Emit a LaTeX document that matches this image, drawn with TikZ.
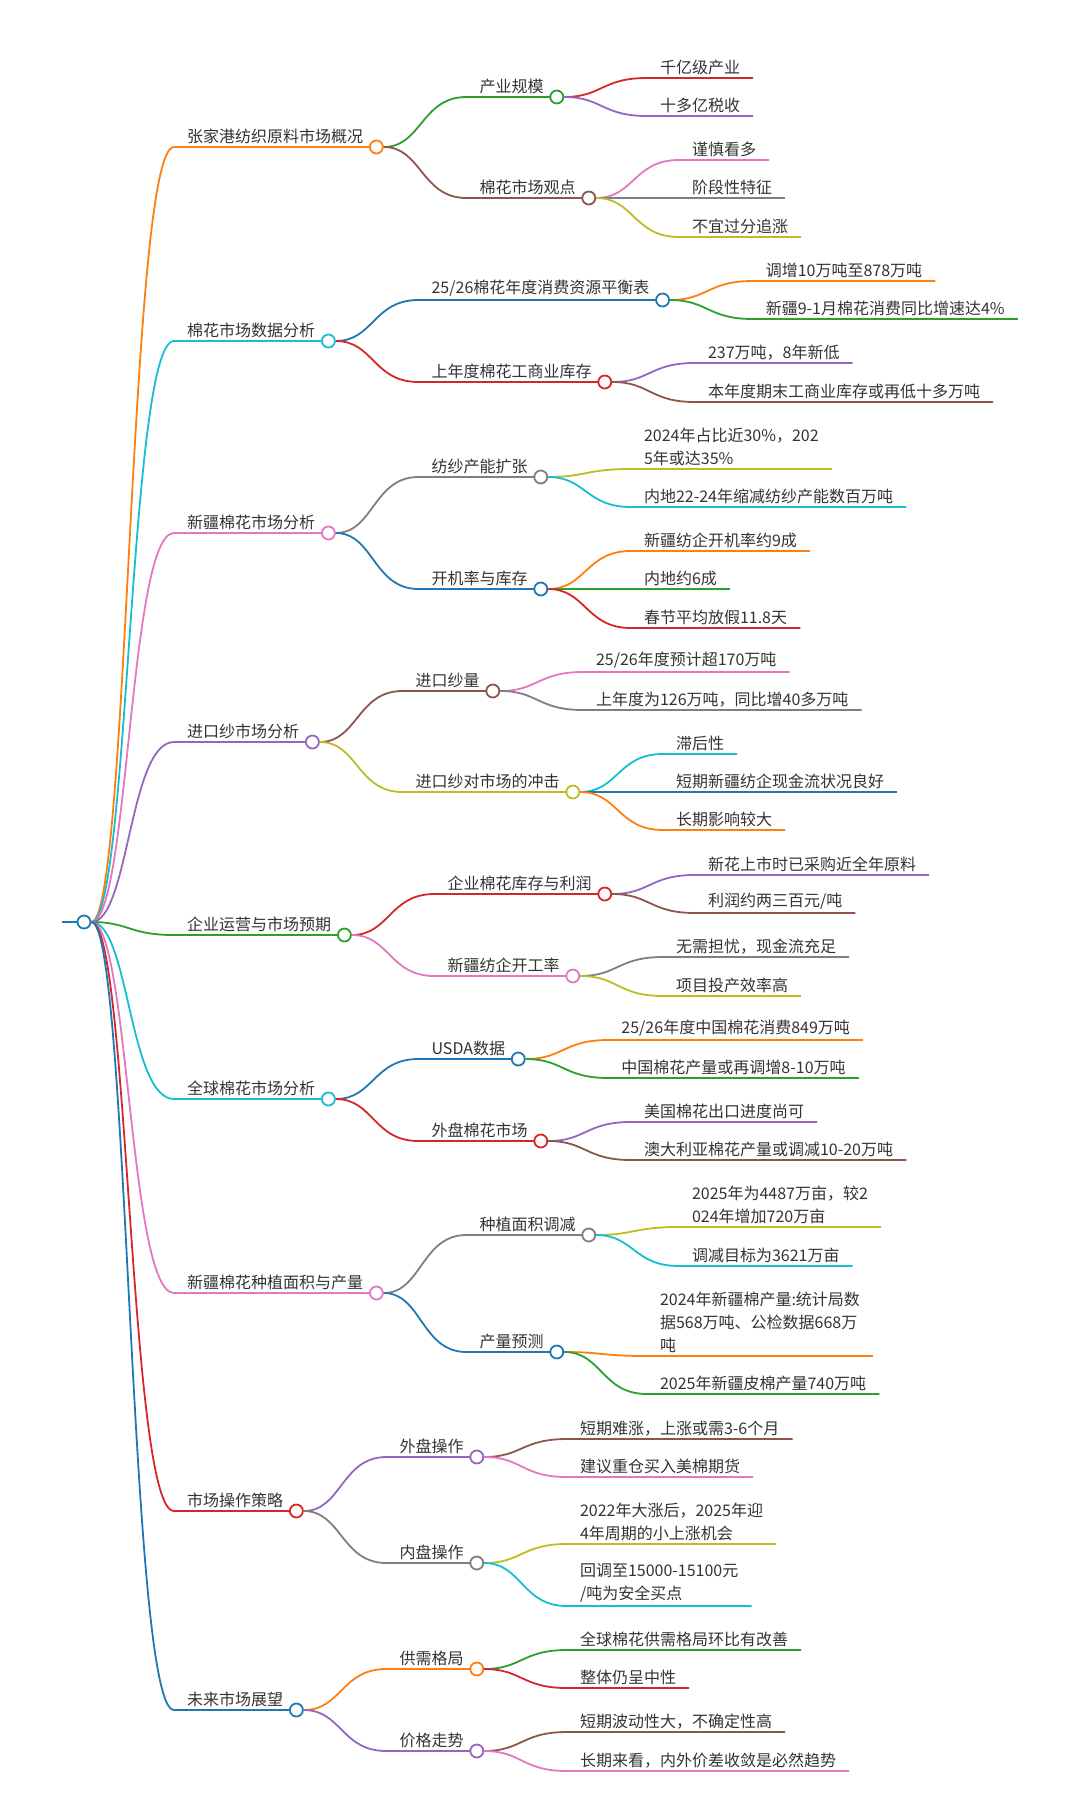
\documentclass[tikz,border=0pt]{standalone}
\usepackage{fontspec}
\newfontfamily\cjk{Noto Sans CJK SC}
\definecolor{cblue}{HTML}{1F77B4}
\definecolor{corange}{HTML}{FF7F0E}
\definecolor{cgreen}{HTML}{2CA02C}
\definecolor{cred}{HTML}{D62728}
\definecolor{cpurple}{HTML}{9467BD}
\definecolor{cbrown}{HTML}{8C564B}
\definecolor{cpink}{HTML}{E377C2}
\definecolor{cgray}{HTML}{7F7F7F}
\definecolor{colive}{HTML}{BCBD22}
\definecolor{ccyan}{HTML}{17BECF}
\definecolor{textgray}{HTML}{333333}

\begin{document}
\begin{tikzpicture}[x=1pt,y=-1pt,
  txt/.style={anchor=south west,inner xsep=13pt,inner ysep=3pt,align=left,
    text=textgray,font=\cjk\fontsize{16}{23}\selectfont},
  dot/.style={circle,draw,fill=white,line width=1.8pt,minimum size=13pt,inner sep=0pt},
  br/.style={line width=1.8pt}]
  \useasboundingbox (0,0) rectangle (1080,1816);
  % root
  \coordinate (r0) at (62,922);
  \node[dot,draw=cblue] (root) at (84,922) {};
  \draw[br,cblue] (r0) -- (root);
  % first level
  \foreach \y/\t/\c [count=\i] in {147/{张家港纺织原料市场概况}/corange,
      341/{棉花市场数据分析}/ccyan, 533/{新疆棉花市场分析}/cpink,
      742/{进口纱市场分析}/cpurple, 935/{企业运营与市场预期}/cgreen,
      1099/{全球棉花市场分析}/ccyan, 1293/{新疆棉花种植面积与产量}/cpink,
      1511/{市场操作策略}/cred, 1710/{未来市场展望}/cblue}{
    \node[txt] (a\i) at (174,\y) {\t};
    \draw[br,\c] (root) .. controls +(45,0) and +(-45,0) .. (a\i.south west) -- (a\i.south east);
    \node[dot,draw=\c] (p\i) at (a\i.south east) {};
  }
  % second level
  \foreach \p/\y/\t/\c [count=\i] in {1/97/{产业规模}/cgreen, 1/198/{棉花市场观点}/cbrown,
      2/300/{25/26棉花年度消费资源平衡表}/cblue, 2/382/{上年度棉花工商业库存}/cred,
      3/477/{纺纱产能扩张}/cgray, 3/589/{开机率与库存}/cblue,
      4/691/{进口纱量}/cbrown, 4/792/{进口纱对市场的冲击}/colive,
      5/894/{企业棉花库存与利润}/cred, 5/976/{新疆纺企开工率}/cpink,
      6/1059/{USDA数据}/cblue, 6/1141/{外盘棉花市场}/cred,
      7/1235/{种植面积调减}/cgray, 7/1352/{产量预测}/cblue,
      8/1457/{外盘操作}/cpurple, 8/1563/{内盘操作}/cgray,
      9/1669/{供需格局}/corange, 9/1751/{价格走势}/cpurple}{
    \coordinate (tmp) at ([xshift=90pt]p\p.center);
    \node[txt] (b\i) at (tmp |- 0,\y) {\t};
    \draw[br,\c] (p\p) .. controls +(45,0) and +(-45,0) .. (b\i.south west) -- (b\i.south east);
    \node[dot,draw=\c] (q\i) at (b\i.south east) {};
  }
  % leaves
  \foreach \p/\y/\t/\c [count=\i] in {1/78/{千亿级产业}/cred, 1/116/{十多亿税收}/cpurple,
      2/160/{谨慎看多}/cpink, 2/198/{阶段性特征}/cgray, 2/237/{不宜过分追涨}/colive,
      3/281/{调增10万吨至878万吨}/corange, 3/319/{新疆9-1月棉花消费同比增速达4\%}/cgreen,
      4/363/{237万吨，8年新低}/cpurple, 4/402/{本年度期末工商业库存或再低十多万吨}/cbrown,
      5/469/{2024年占比近30\%，202\\5年或达35\%}/colive, 5/507/{内地22-24年缩减纺纱产能数百万吨}/ccyan,
      6/551/{新疆纺企开机率约9成}/corange, 6/589/{内地约6成}/cgreen, 6/628/{春节平均放假11.8天}/cred,
      7/672/{25/26年度预计超170万吨}/cpink, 7/710/{上年度为126万吨，同比增40多万吨}/cgray,
      8/754/{滞后性}/ccyan, 8/792/{短期新疆纺企现金流状况良好}/cblue, 8/830/{长期影响较大}/corange,
      9/875/{新花上市时已采购近全年原料}/cpurple, 9/913/{利润约两三百元/吨}/cbrown,
      10/957/{无需担忧，现金流充足}/cgray, 10/996/{项目投产效率高}/colive,
      11/1040/{25/26年度中国棉花消费849万吨}/corange, 11/1078/{中国棉花产量或再调增8-10万吨}/cgreen,
      12/1122/{美国棉花出口进度尚可}/cpurple, 12/1160/{澳大利亚棉花产量或调减10-20万吨}/cbrown,
      13/1227/{2025年为4487万亩，较2\\024年增加720万亩}/colive, 13/1266/{调减目标为3621万亩}/ccyan,
      14/1356/{2024年新疆棉产量:统计局数\\据568万吨、公检数据668万\\吨}/corange,
      14/1394/{2025年新疆皮棉产量740万吨}/cgreen,
      15/1439/{短期难涨，上涨或需3-6个月}/cbrown, 15/1477/{建议重仓买入美棉期货}/cpink,
      16/1544/{2022年大涨后，2025年迎\\4年周期的小上涨机会}/colive,
      16/1606/{回调至15000-15100元\\/吨为安全买点}/ccyan,
      17/1650/{全球棉花供需格局环比有改善}/cgreen, 17/1688/{整体仍呈中性}/cred,
      18/1732/{短期波动性大，不确定性高}/cbrown, 18/1771/{长期来看，内外价差收敛是必然趋势}/cpink}{
    \coordinate (tmp) at ([xshift=90pt]q\p.center);
    \node[txt] (c\i) at (tmp |- 0,\y) {\t};
    \draw[br,\c] (q\p) .. controls +(45,0) and +(-45,0) .. (c\i.south west) -- (c\i.south east);
  }
\end{tikzpicture}
\end{document}
